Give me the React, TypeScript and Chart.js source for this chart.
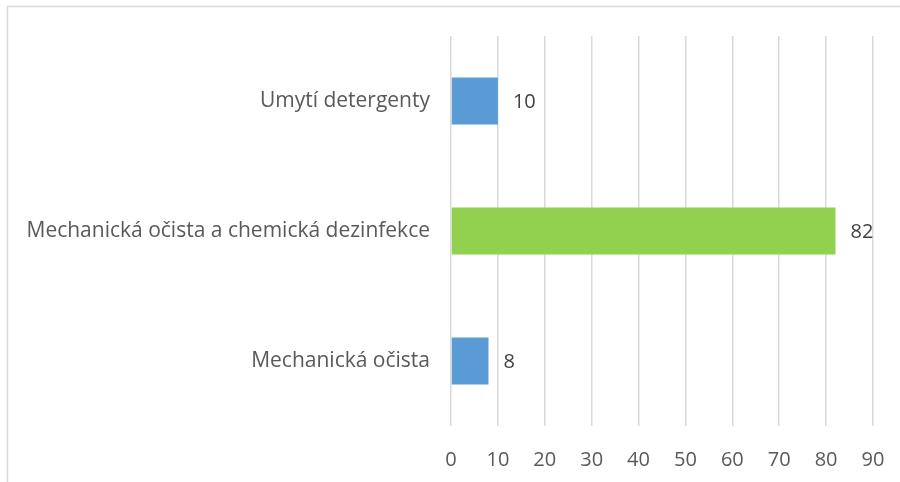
import React, { useEffect, useRef } from "react";
import { Chart, registerables } from "chart.js";

Chart.register(...registerables);

const categories = ["Umytí detergenty", "Mechanická očista a chemická dezinfekce", "Mechanická očista"];
const values = [10, 82, 8];
const barColors = ["#5B9BD5", "#92D050", "#5B9BD5"];
const xTicks = [0, 10, 20, 30, 40, 50, 60, 70, 80, 90];

const FONT = "'Open Sans', sans-serif";
const TEXT = "#595959";

const framePlugin = {
  id: "frame",
  beforeDraw(chart: any) {
    const ctx = chart.ctx;
    ctx.save();
    ctx.fillStyle = "#ffffff";
    ctx.fillRect(0, 0, chart.width, chart.height);
    ctx.strokeStyle = "#D9D9D9";
    ctx.lineWidth = 1.5;
    ctx.strokeRect(7.5, 6.5, chart.width + 10, chart.height + 10);
    ctx.restore();
  },
};

const labelPlugin = {
  id: "valueLabels",
  afterDatasetsDraw(chart: any) {
    const ctx = chart.ctx;
    const meta = chart.getDatasetMeta(0);
    ctx.save();
    ctx.fillStyle = "#404040";
    ctx.font = `20px ${FONT}`;
    ctx.textAlign = "left";
    ctx.textBaseline = "middle";
    meta.data.forEach((el: any, i: number) => {
      ctx.fillText(String(values[i]), el.x + 15, el.y + 1);
    });
    ctx.restore();
  },
};

export default function App() {
  const ref = useRef<HTMLCanvasElement>(null);
  useEffect(() => {
    document.body.style.margin = "0";
    const chart = new Chart(ref.current!, {
      type: "bar",
      data: {
        labels: categories,
        datasets: [
          {
            data: values,
            backgroundColor: barColors,
            categoryPercentage: 1,
            barPercentage: 0.36,
          },
        ],
      },
      options: {
        indexAxis: "y",
        animation: false,
        responsive: false,
        layout: { padding: { top: 36, right: 27, left: 0, bottom: 0 } },
        plugins: { legend: { display: false }, tooltip: { enabled: false } },
        scales: {
          x: {
            min: 0,
            max: 90,
            afterFit(scale: any) {
              scale.height = 56;
              scale.paddingRight = 0;
              scale.paddingLeft = 0;
            },
            afterBuildTicks(scale: any) {
              scale.ticks = xTicks.map((v) => ({ value: v }));
            },
            grid: { color: "#D9D9D9", lineWidth: 1.5, drawTicks: false },
            border: { display: false },
            ticks: { color: TEXT, font: { family: FONT, size: 20 }, padding: 22 },
          },
          y: {
            afterFit(scale: any) {
              scale.width = 451;
            },
            grid: { display: false, drawTicks: false },
            border: { display: false },
            ticks: { color: TEXT, font: { family: FONT, size: 21 }, padding: 21 },
          },
        },
      },
      plugins: [framePlugin, labelPlugin],
    });
    return () => chart.destroy();
  }, []);
  return <canvas ref={ref} width={900} height={482} style={{ display: "block" }} />;
}
